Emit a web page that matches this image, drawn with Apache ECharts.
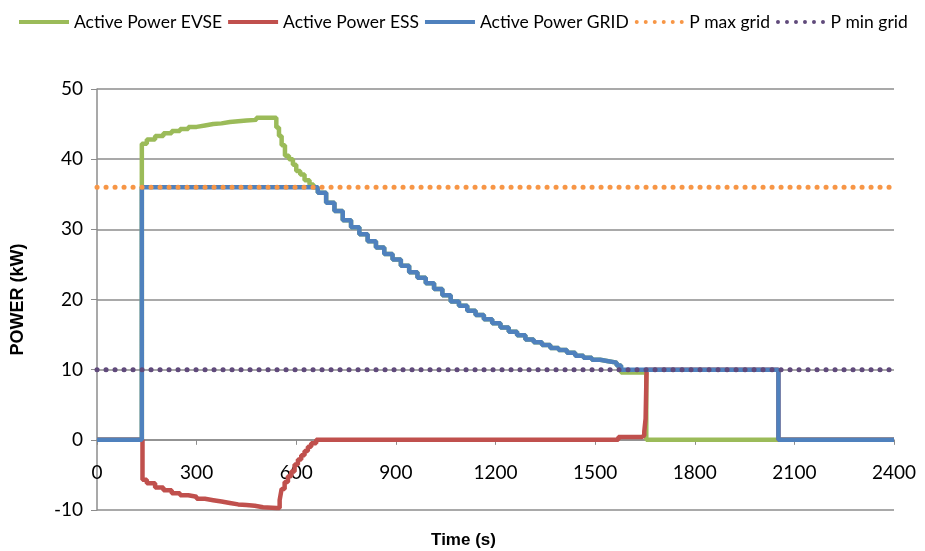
<!DOCTYPE html>
<html>
<head>
<meta charset="utf-8">
<script src="https://cdn.jsdelivr.net/npm/echarts@6/dist/echarts.min.js"></script>
<style>html,body{margin:0;padding:0;background:#fff;}#c{width:925px;height:551px;}</style>
</head>
<body>
<div id="c"></div>
<script>
// ---- data ----
const gridT = [0, 135, 665, 690, 715, 740, 765, 790, 815, 840, 865, 890, 915, 940, 965, 990, 1015, 1040, 1065, 1090, 1115, 1140, 1165, 1190, 1215, 1240, 1265, 1290, 1315, 1340, 1365, 1390, 1415, 1440, 1465, 1490, 1515, 1540, 1565, 1578, 2052, 2400];
const gridP = [0, 36, 35.2, 33.8, 32.6, 31.3, 30.3, 29.3, 28.3, 27.4, 26.5, 25.7, 24.8, 23.9, 23.1, 22.3, 21.5, 20.6, 19.7, 19.1, 18.4, 17.8, 17.2, 16.6, 16.0, 15.4, 14.9, 14.3, 13.9, 13.5, 13.1, 12.8, 12.4, 12.0, 11.7, 11.4, 11.2, 11.0, 10.6, 10, 0, 0];

const evseT = [0, 135, 150, 175, 200, 225, 250, 275, 300, 325, 350, 375, 400, 425, 450, 480, 540, 548, 556, 566, 578, 590, 600, 612, 625, 640, 652, 665, 690, 715, 740, 765, 790, 815, 840, 865, 890, 915, 940, 965, 990, 1015, 1040, 1065, 1090, 1115, 1140, 1165, 1190, 1215, 1240, 1265, 1290, 1315, 1340, 1365, 1390, 1415, 1440, 1465, 1490, 1515, 1540, 1565, 1578, 1654, 2400];
const evseP = [0, 42.2, 42.8, 43.3, 43.7, 44.0, 44.3, 44.6, 44.8, 45.0, 45.1, 45.3, 45.4, 45.5, 45.6, 45.9, 44.5, 43.3, 42.0, 40.5, 40.0, 39.2, 38.3, 37.8, 37.0, 36.4, 36.0, 35.2, 33.8, 32.6, 31.3, 30.3, 29.3, 28.3, 27.4, 26.5, 25.7, 24.8, 23.9, 23.1, 22.3, 21.5, 20.6, 19.7, 19.1, 18.4, 17.8, 17.2, 16.6, 16.0, 15.4, 14.9, 14.3, 13.9, 13.5, 13.1, 12.8, 12.4, 12.0, 11.7, 11.4, 11.2, 11.0, 10.6, 9.6, 0, 0];

const essT = [0, 137, 150, 175, 200, 225, 250, 275, 300, 325, 350, 375, 400, 425, 450, 475, 500, 540, 550, 556, 565, 575, 585, 595, 605, 615, 625, 635, 645, 660, 1570, 1640, 1648, 1652, 1655, 2052, 2400];
const essP = [0, -5.7, -6.2, -6.8, -7.2, -7.6, -7.9, -8.1, -8.4, -8.6, -8.8, -9.0, -9.2, -9.3, -9.4, -9.6, -9.7, -9.7, -8.6, -7.0, -6.0, -5.2, -4.5, -3.5, -2.8, -2.2, -1.6, -1.0, -0.5, 0, 0.4, 0.6, 1.2, 3.0, 10, 0, 0];

const pMaxGrid = 36;
const pMinGrid = 10;
const xTicks = {min: 0, max: 2400, step: 300};
const yTicks = {min: -10, max: 50, step: 10};

const seriesNames = ['Active Power EVSE', 'Active Power ESS', 'Active Power GRID', 'P max grid', 'P min grid'];
const colors = ['#9BBB59', '#C0504D', '#4F81BD', '#F79646', '#604A7B'];

const zip = (t, p) => t.map((v, i) => [v, p[i]]);

const font = 'Lato, "Open Sans", sans-serif';
const gridTop = 89, gridBottom = 41, H = 551;
const plotH = H - gridTop - gridBottom;
// x axis sits on the value 0 line: shift it up from the plot bottom
const xAxisOffset = -plotH * (0 - yTicks.min) / (yTicks.max - yTicks.min);

const chart = echarts.init(document.getElementById('c'), null, {renderer: 'canvas'});
const solid = (name, color, data) => ({
  name, type: 'line', data, step: 'end', showSymbol: false, symbol: 'none',
  lineStyle: {color, width: 4.5}, itemStyle: {color}, animation: false
});
const dotted = (name, color, val) => ({
  name, type: 'line', data: [[xTicks.min, val], [xTicks.max, val]], showSymbol: false, symbol: 'none',
  lineStyle: {color, width: 5, type: [0.1, 8.9], cap: 'round'}, itemStyle: {color}, animation: false
});
// legend icons: thick bar, and a row of round dots
const dotIcon = 'path://' + [0, 9, 18, 27, 36, 45].map(x => `M${x},2a2,2 0 1,0 4,0a2,2 0 1,0 -4,0Z`).join(' ');

chart.setOption({
  animation: false,
  color: colors,
  legend: {
    top: 8, left: 14, width: 910, itemGap: 6, itemWidth: 50, itemHeight: 4,
    textStyle: {fontFamily: font, fontSize: 17.5, color: '#000'},
    data: [
      {name: seriesNames[0], icon: 'rect'},
      {name: seriesNames[1], icon: 'rect'},
      {name: seriesNames[2], icon: 'rect'},
      {name: seriesNames[3], icon: dotIcon},
      {name: seriesNames[4], icon: dotIcon}
    ]
  },
  grid: {left: 97, right: 31, top: gridTop, bottom: gridBottom, containLabel: false, outerBoundsMode: 'none'},
  xAxis: {
    type: 'value', min: xTicks.min, max: xTicks.max, interval: xTicks.step,
    position: 'bottom', offset: xAxisOffset,
    name: 'Time (s)', nameLocation: 'middle', nameGap: 92,
    nameTextStyle: {fontFamily: 'Liberation Sans', fontWeight: 'bold', fontSize: 17, color: '#000', padding: [0, 64, 0, 0]},
    axisLine: {onZero: false, lineStyle: {color: '#8c8c8c', width: 1.5}},
    axisTick: {show: true, length: 5, lineStyle: {color: '#8c8c8c'}},
    axisLabel: {margin: 24, fontFamily: font, fontSize: 19, color: '#000', formatter: v => String(v)},
    splitLine: {show: false}
  },
  yAxis: {
    type: 'value', min: yTicks.min, max: yTicks.max, interval: yTicks.step,
    name: 'POWER (kW)', nameLocation: 'middle', nameGap: 70, nameRotate: 90,
    nameTextStyle: {fontFamily: 'Liberation Sans', fontWeight: 'bold', fontSize: 18, color: '#000'},
    axisLine: {show: true, onZero: false, lineStyle: {color: '#8c8c8c', width: 1.5}},
    axisTick: {show: true, length: 6, lineStyle: {color: '#8c8c8c'}},
    axisLabel: {margin: 14, fontFamily: font, fontSize: 19, color: '#000', formatter: v => String(v)},
    splitLine: {show: true, lineStyle: {color: '#8c8c8c', width: 1.5}}
  },
  series: [
    solid(seriesNames[0], colors[0], zip(evseT, evseP)),
    solid(seriesNames[1], colors[1], zip(essT, essP)),
    solid(seriesNames[2], colors[2], zip(gridT, gridP)),
    dotted(seriesNames[3], colors[3], pMaxGrid),
    dotted(seriesNames[4], colors[4], pMinGrid)
  ]
});
</script>
</body>
</html>
